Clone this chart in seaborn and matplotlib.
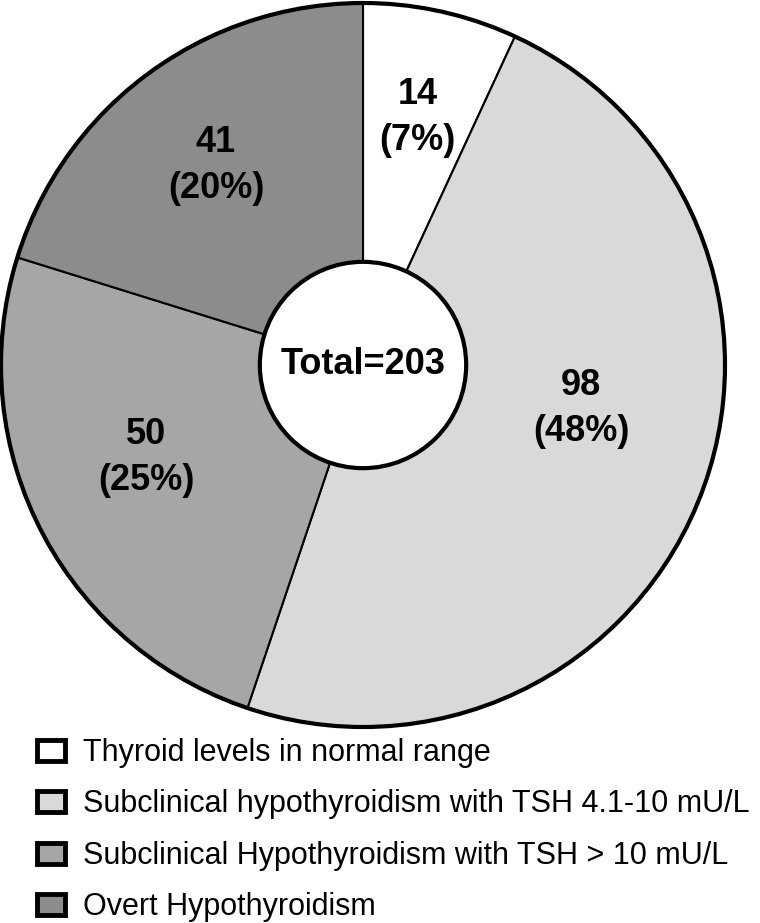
import numpy as np
import matplotlib
matplotlib.use("Agg")
import matplotlib.pyplot as plt
import seaborn as sns
from matplotlib.patches import Patch, Circle

categories = ["Thyroid levels in normal range",
              "Subclinical hypothyroidism with TSH 4.1-10 mU/L",
              "Subclinical Hypothyroidism with TSH > 10 mU/L",
              "Overt Hypothyroidism"]
counts = [14, 98, 50, 41]
colors = ["#ffffff", "#d9d9d9", "#a6a6a6", "#8c8c8c"]
total = sum(counts)

# where the labels sit inside each slice (radius, angle shift in degrees)
label_r = [0.70, 0.615, 0.65, 0.685]
label_shift = [0, 10.5, -4, 0]

sns.set_style("white")
plt.rcParams['font.family'] = ['Liberation Sans', 'DejaVu Sans']
plt.rcParams['text.color'] = 'black'

fig = plt.figure(figsize=(7.6, 9.23), dpi=100)
W, H = 760, 923
cx, cy, r = 363, 365, 362
ax = fig.add_axes([(cx - r) / W, (H - cy - r) / H, 2 * r / W, 2 * r / H])

wedges, _ = ax.pie(counts, colors=colors, startangle=90, counterclock=False,
                   wedgeprops=dict(edgecolor="black", linewidth=1.5))

for w, n, lr, sh in zip(wedges, counts, label_r, label_shift):
    w.set_clip_on(False)
    ang = np.deg2rad((w.theta1 + w.theta2) / 2 + sh)
    pct = 100.0 * n / total
    ax.text(lr * np.cos(ang), lr * np.sin(ang), "%d\n(%d%%)" % (n, round(pct)),
            ha="center", va="center", fontsize=26, fontweight="bold",
            color="black", linespacing=1.4)

ax.add_patch(Circle((0, 0), 1.0, fill=False, edgecolor="black", linewidth=3, clip_on=False))
ax.add_patch(Circle((0, 0), 0.285, facecolor="white", edgecolor="black", linewidth=3, zorder=5))
ax.text(0, 0, "Total=%d" % total, ha="center", va="center", fontsize=26,
        fontweight="bold", color="black", zorder=6)
ax.set_xlim(-1.0, 1.0)
ax.set_ylim(-1.0, 1.0)
ax.set_aspect("equal")
ax.axis("off")

handles = [Patch(facecolor=c, edgecolor="black", linewidth=3.5) for c in colors]
fig.legend(handles, categories, loc="upper left", bbox_to_anchor=(37 / W, 1 - 738 / H),
           frameon=False, fontsize=22, handlelength=0.92, handleheight=0.68,
           labelspacing=0.7, handletextpad=0.58, borderpad=0, borderaxespad=0)

fig.savefig("out.png", dpi=100)
